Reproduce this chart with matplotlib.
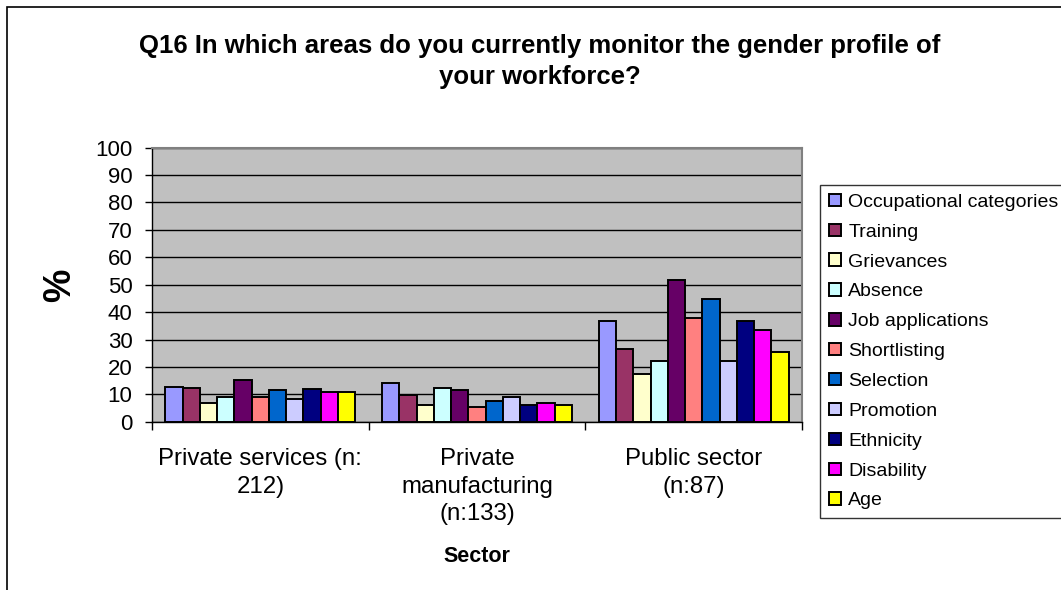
import numpy as np
import matplotlib.pyplot as plt
from matplotlib.patches import Rectangle

plt.rcParams['font.family'] = ['Liberation Sans', 'DejaVu Sans']

sectors = ['Private services (n:\n212)', 'Private\nmanufacturing\n(n:133)', 'Public sector\n(n:87)']
areas = ['Occupational categories', 'Training', 'Grievances', 'Absence', 'Job applications',
         'Shortlisting', 'Selection', 'Promotion', 'Ethnicity', 'Disability', 'Age']
colors = ['#9999FF', '#993366', '#FFFFCC', '#CCFFFF', '#660066', '#FF8080',
          '#0066CC', '#CCCCFF', '#000080', '#FF00FF', '#FFFF00']

# % per area, order: private services, private manufacturing, public sector
occupational = [12.8, 14.2, 36.9]
training = [12.4, 9.9, 26.6]
grievances = [6.7, 6.1, 17.3]
absence = [9.1, 12.2, 22.0]
job_applications = [15.2, 11.4, 51.7]
shortlisting = [9.1, 5.4, 38.0]
selection = [11.6, 7.7, 44.9]
promotion = [8.2, 9.1, 22.0]
ethnicity = [12.0, 6.1, 36.9]
disability = [10.8, 6.9, 33.6]
age = [10.8, 6.2, 25.4]

series = [occupational, training, grievances, absence, job_applications, shortlisting,
          selection, promotion, ethnicity, disability, age]

fig = plt.figure(figsize=(10.61, 5.9), dpi=100)
ax = fig.add_axes([152 / 1061, 1 - 421.7 / 590, 650 / 1061, 274 / 590])
ax.set_facecolor('#C0C0C0')

x = np.arange(len(sectors))
w = 0.876 / len(series)
for i, (vals, c, name) in enumerate(zip(series, colors, areas)):
    ax.bar(x + (i - 5) * w, vals, w, color=c, edgecolor='black', linewidth=1.4,
           label=name, zorder=3)

ax.set_xlim(-0.5, 2.5)
ax.set_ylim(0, 100)
ax.set_yticks(range(0, 101, 10))
ax.yaxis.grid(True, color='black', linewidth=1.0, zorder=0)
ax.tick_params(axis='y', labelsize=16, length=5, width=1, direction='out', pad=9)
ax.set_xticks(x)
ax.set_xticklabels(sectors, linespacing=1.33)
ax.tick_params(axis='x', which='major', labelsize=17.3, length=0, pad=19)
ax.set_xticks([-0.5, 0.5, 1.5, 2.5], minor=True)
ax.tick_params(axis='x', which='minor', length=6, width=1, direction='out')

for s in ['left', 'bottom']:
    ax.spines[s].set_color('black')
    ax.spines[s].set_linewidth(1.0)
for s in ['top', 'right']:
    ax.spines[s].set_color('#808080')
    ax.spines[s].set_linewidth(1.5)

fig.text(540 / 1061, 1 - 34 / 590,
         'Q16 In which areas do you currently monitor the gender profile of\nyour workforce?',
         ha='center', va='top', fontsize=18.5, fontweight='bold', linespacing=1.35)
fig.text(60 / 1061, 1 - 285 / 590, '%', rotation=90, ha='center', va='center',
         fontsize=27, fontweight='bold')
fig.text(477 / 1061, 1 - 556 / 590, 'Sector', ha='center', va='center',
         fontsize=15.5, fontweight='bold')

leg = fig.legend(loc='upper left', bbox_to_anchor=(820 / 1061, 1 - 185 / 590),
                 bbox_transform=fig.transFigure, fontsize=14, frameon=True,
                 fancybox=False, edgecolor='black', handlelength=0.65,
                 handleheight=0.6, handletextpad=0.35, labelspacing=0.66,
                 borderpad=0.45, borderaxespad=0)
leg.get_frame().set_linewidth(1.0)

fig.patches.append(Rectangle((7 / 1061, -0.1), 1.2, 1 - 7 / 590 + 0.1,
                             transform=fig.transFigure, fill=False,
                             edgecolor='black', linewidth=1.2))

fig.savefig('out.png', dpi=100)
